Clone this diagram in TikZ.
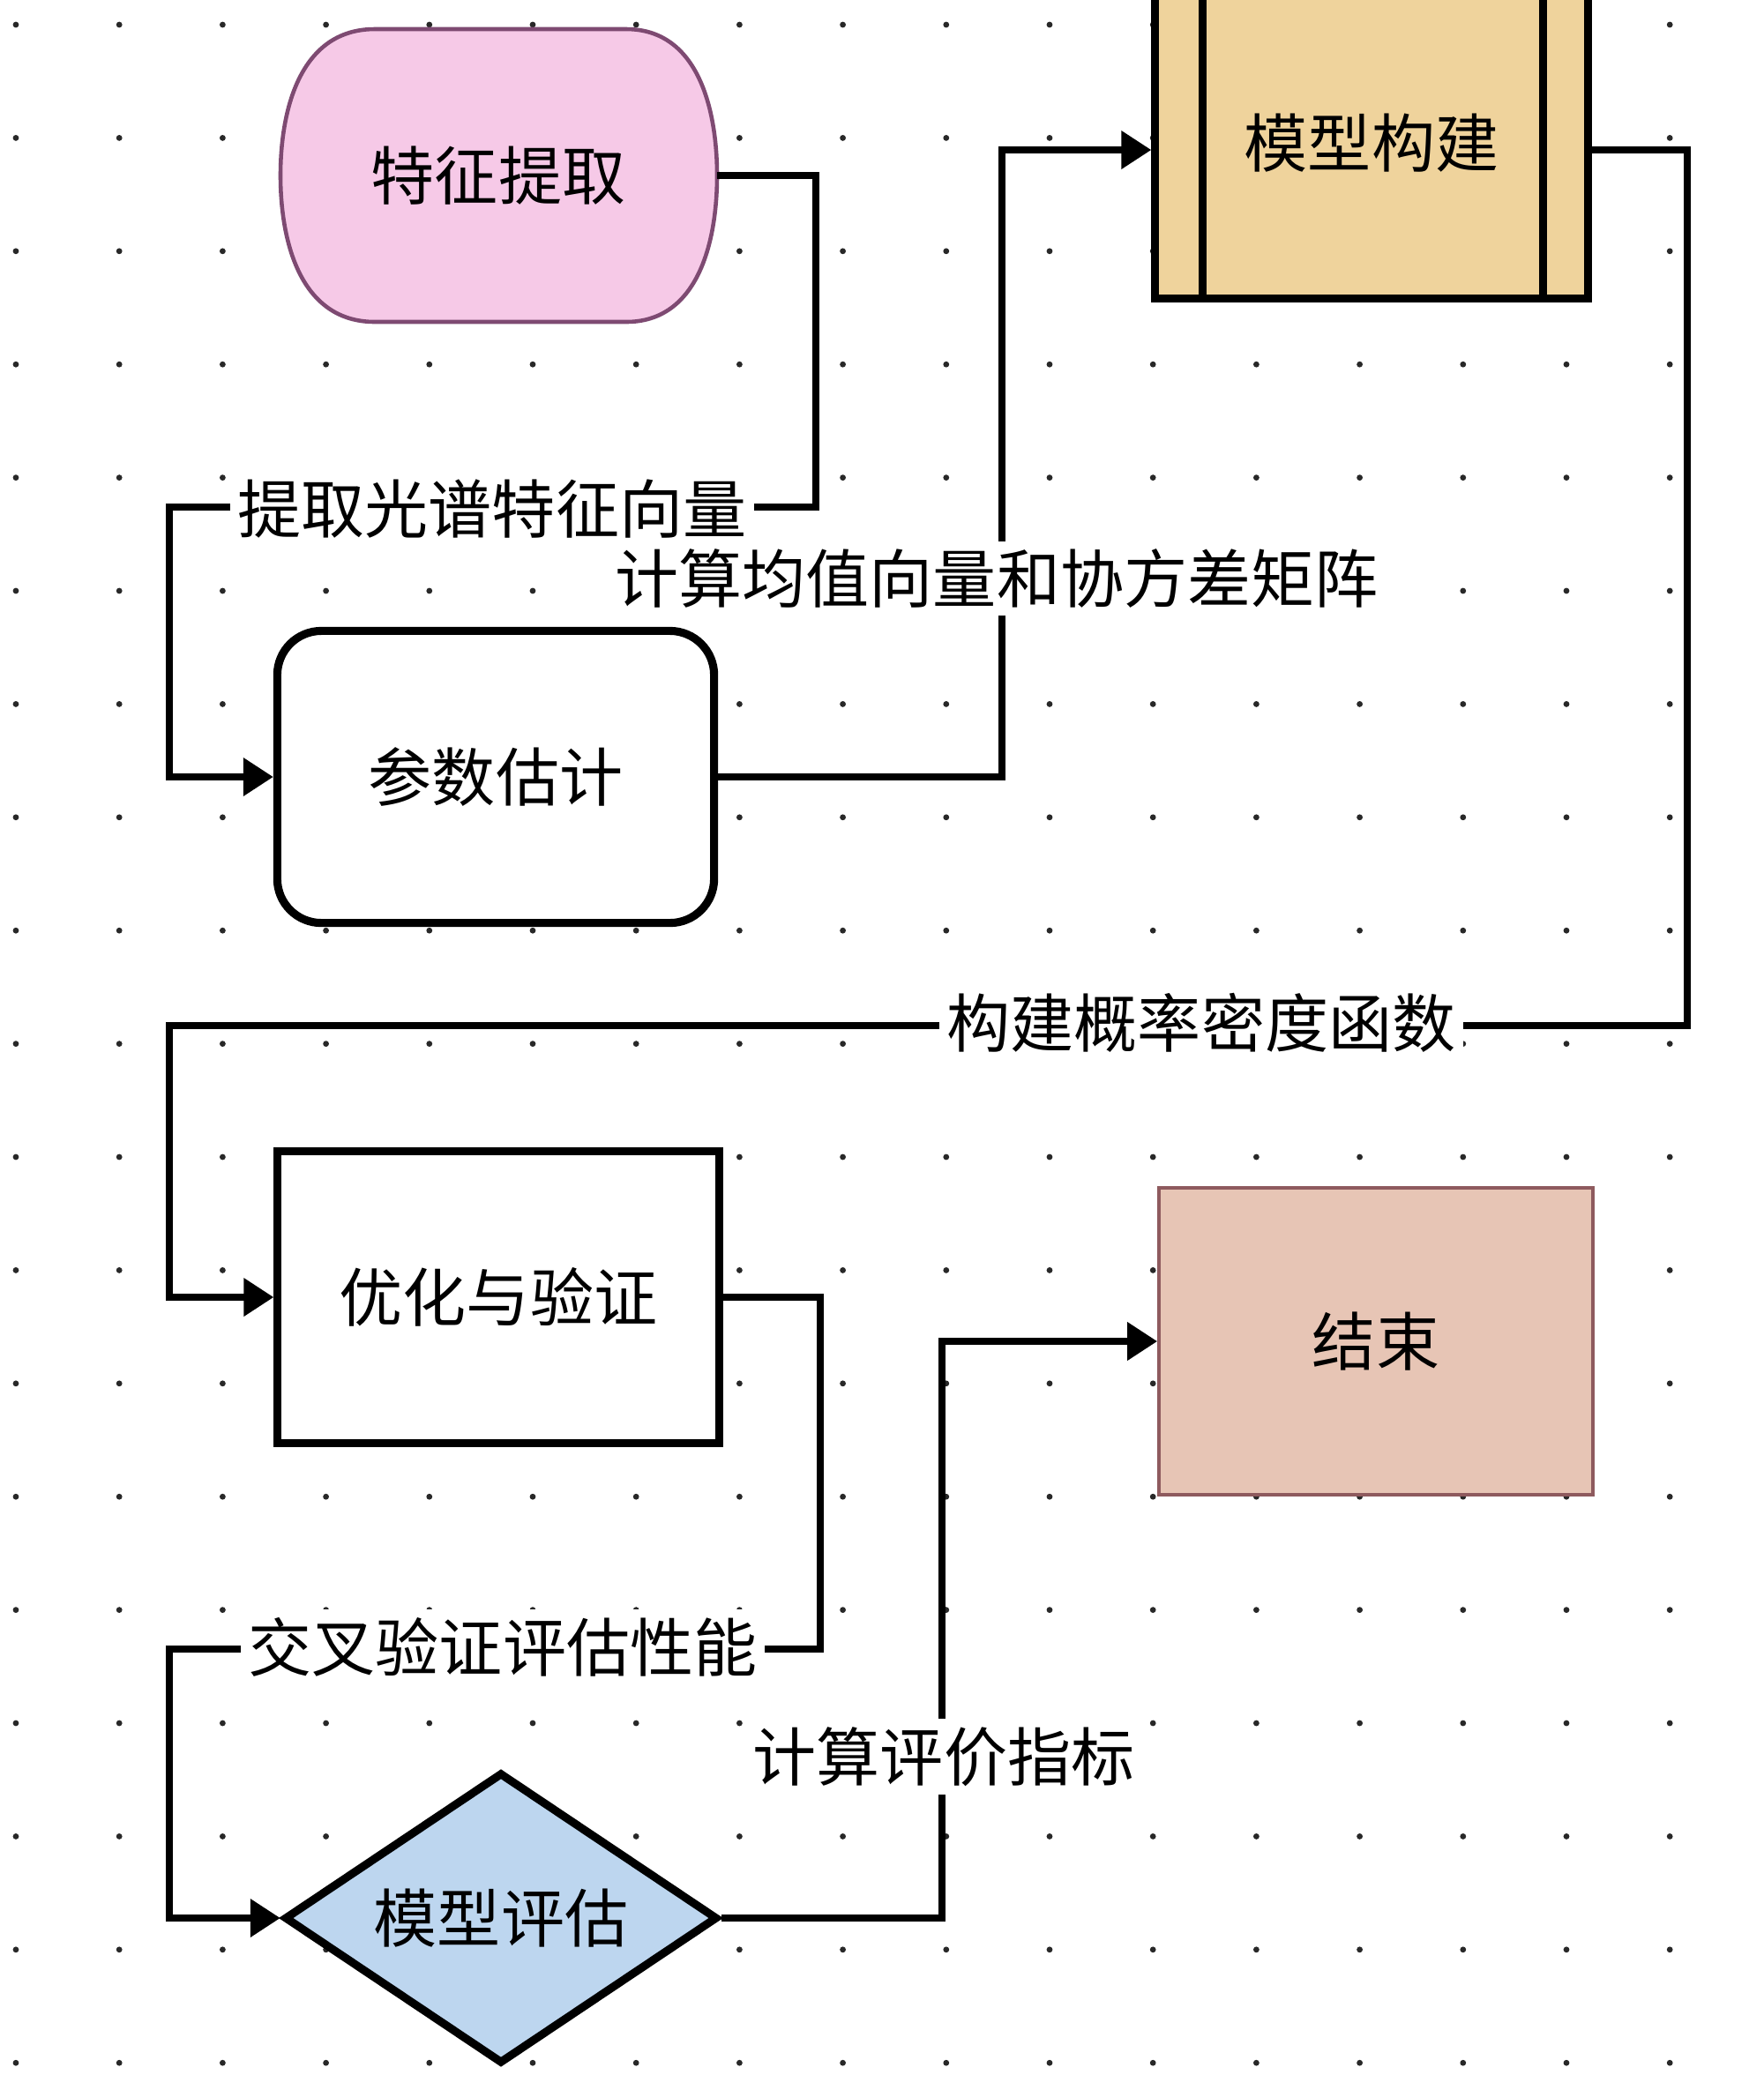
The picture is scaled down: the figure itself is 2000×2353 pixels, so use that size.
\documentclass[tikz,border=0pt]{standalone}
\usepackage{fontspec}
\setmainfont{Noto Sans CJK SC}
\usetikzlibrary{shapes.geometric,arrows.meta}
\definecolor{pinkfill}{HTML}{F6C9E7}
\definecolor{pinkline}{HTML}{7E4A72}
\definecolor{tanfill}{HTML}{EFD39C}
\definecolor{endfill}{HTML}{E7C5B5}
\definecolor{endline}{HTML}{8E5A5E}
\definecolor{bluefill}{HTML}{BDD6EF}
\definecolor{dotcol}{HTML}{282828}
\begin{document}
\begin{tikzpicture}[x=0.01cm,y=-0.01cm,
  txt/.style={font=\fontsize{20.5}{24}\selectfont},
  boxnode/.style={txt, draw, line width=2.6pt, minimum width=4.95cm, minimum height=3.31cm, inner sep=0pt},
  conn/.style={line width=2.1pt, line join=miter, -{Triangle[length=0.34cm,width=0.42cm]}},
  lab/.style={txt, fill=white, inner sep=0.09cm}
]
\useasboundingbox (0,0) rectangle (2000,2353);
\fill[white] (0,0) rectangle (2000,2353);
% dot grid
\foreach \i in {0,...,17}{
  \foreach \j in {0,...,18}{
    \fill[dotcol] (18+117.2*\i, 28+128.4*\j) circle (0.034cm);
  }
}
% 特征提取 outline
\filldraw[fill=pinkfill, draw=pinkline, line width=1.3pt]
  (425,33) -- (710,33) .. controls (792,33) and (813,125) .. (813,199)
  .. controls (813,273) and (792,365) .. (710,365) -- (425,365)
  .. controls (340,365) and (318,273) .. (318,199)
  .. controls (318,125) and (340,33) .. (425,33) -- cycle;
\node[txt, minimum width=4.95cm, minimum height=3.32cm, inner sep=0pt] (tz) at (565,199) {特征提取};
% 模型构建
\node[boxnode, fill=tanfill, minimum width=4.9cm, minimum height=3.52cm] (mb) at (1555,162) {模型构建};
\draw[line width=2.6pt] ([xshift=0.58cm]mb.north west) -- ([xshift=0.58cm]mb.south west);
\draw[line width=2.6pt] ([xshift=-0.55cm]mb.north east) -- ([xshift=-0.55cm]mb.south east);
% 参数估计
\node[boxnode, fill=white, rounded corners=0.5cm] (cs) at (562,881) {参数估计};
% 优化与验证
\node[boxnode, fill=white, minimum width=5.0cm] (ov) at (565,1471) {优化与验证};
% 结束
\node[txt, draw=endline, line width=1pt, fill=endfill, minimum width=4.92cm, minimum height=3.48cm, inner sep=0pt] (end) at (1560,1521) {结束};
% 模型评估
\node[txt, shape=diamond, aspect=1.5, draw, line width=2.6pt, fill=bluefill, minimum width=4.91cm, minimum height=3.3cm, inner sep=0pt] (me) at (568,2175) {模型评估};
% connectors
\coordinate (a1) at (925,575);
\coordinate (a2) at (192,575);
\draw[conn] (tz.east) -| (a1) -- (a2) |- (cs.west);
\coordinate (b1) at (1136,170);
\draw[conn] (cs.east) -| (b1) -- (b1 -| mb.west);
\coordinate (c1) at (1913,1163);
\coordinate (c2) at (192,1163);
\draw[conn] (b1 -| mb.east) -| (c1) -- (c2) |- (ov.west);
\coordinate (d1) at (930,1870);
\coordinate (d2) at (192,1870);
\draw[conn] (ov.east) -| (d1) -- (d2) |- (me.west);
\coordinate (e1) at (1068,1521);
\draw[conn] (me.east) -| (e1) -- (end.west);
% labels
\node[lab] (la) at (558,577) {提取光谱特征向量};
\node[lab] (lb) at (1130,656) {计算均值向量和协方差矩阵};
\node[lab] (lc) at (1362,1160) {构建概率密度函数};
\node[lab] (ld) at (570,1868) {交叉验证评估性能};
\node[lab] (le) at (1070,1992) {计算评价指标};
\end{tikzpicture}
\end{document}
